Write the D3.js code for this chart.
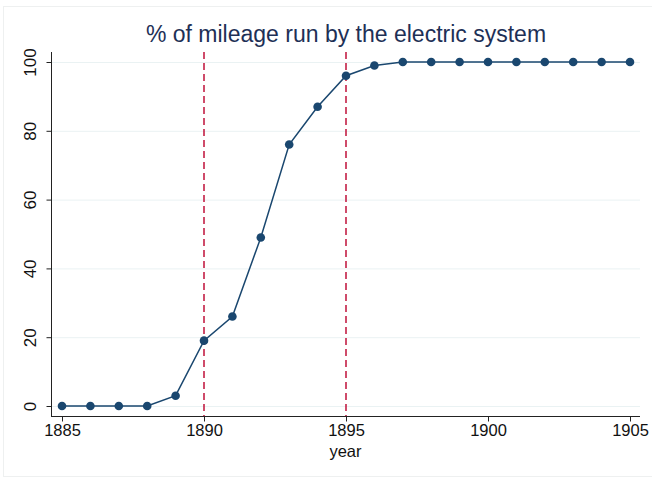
<!DOCTYPE html>
<html>
<head>
<meta charset="utf-8">
<script src="https://cdn.jsdelivr.net/npm/d3@7/dist/d3.min.js"></script>
<style>
  html, body { margin: 0; padding: 0; background: #fff; }
  svg { display: block; font-family: "Liberation Sans", Arial, sans-serif; }
</style>
</head>
<body>
<svg id="chart" width="652" height="479"></svg>
<script>
// Share of tram mileage run by electric traction, by year
const years = [1885, 1886, 1887, 1888, 1889, 1890, 1891, 1892, 1893, 1894, 1895,
               1896, 1897, 1898, 1899, 1900, 1901, 1902, 1903, 1904, 1905];
const pctElectric = [0, 0, 0, 0, 3, 19, 26, 49, 76, 87, 96,
                     99, 100, 100, 100, 100, 100, 100, 100, 100, 100];
const xTicks = [1885, 1890, 1895, 1900, 1905];
const yTicks = [0, 20, 40, 60, 80, 100];
const markerYears = [1890, 1895];

const titleText = "% of mileage run by the electric system";
const xLabel = "year";

const svg = d3.select("#chart");

// outer frame
svg.append("rect")
  .attr("x", 3.5).attr("y", 6.5)
  .attr("width", 660).attr("height", 470)
  .attr("fill", "#fff").attr("stroke", "#eef0f0").attr("stroke-width", 1);

const plot = { left: 51, right: 640, top: 52, bottom: 416 };

const x = d3.scaleLinear().domain([1885, 1905]).range([62, 630]);
const y = d3.scaleLinear().domain([0, 100]).range([406, 62]);

// gridlines
svg.append("g")
  .selectAll("line")
  .data(yTicks)
  .join("line")
  .attr("x1", plot.left).attr("x2", plot.right)
  .attr("y1", d => y(d) + 0.5).attr("y2", d => y(d) + 0.5)
  .attr("stroke", "#eaf2f3").attr("stroke-width", 1);

// y axis
const yAxis = svg.append("g")
  .attr("transform", `translate(${plot.left + 0.5},0)`)
  .call(d3.axisLeft(y).tickValues(yTicks).tickSize(5).tickPadding(8));
yAxis.select(".domain").attr("d", `M0,${plot.top}V${plot.bottom}`).attr("stroke", "#222");
yAxis.selectAll(".tick line").attr("stroke", "#222");
yAxis.selectAll(".tick text")
  .attr("font-size", 17).attr("fill", "#111")
  .attr("transform", "rotate(-90)")
  .attr("x", 0).attr("y", -21)
  .attr("dy", "0.35em")
  .attr("text-anchor", "middle");

// x axis
const xAxis = svg.append("g")
  .attr("transform", `translate(0,${plot.bottom + 0.5})`)
  .call(d3.axisBottom(x).tickValues(xTicks).tickFormat(d3.format("d")).tickSize(5).tickPadding(3));
xAxis.select(".domain").attr("d", `M${plot.left},0H${plot.right}`).attr("stroke", "#222");
xAxis.selectAll(".tick line").attr("stroke", "#222");
xAxis.selectAll(".tick text").attr("font-size", 16.5).attr("fill", "#111");

svg.append("text")
  .attr("x", (plot.left + plot.right) / 2)
  .attr("y", 457)
  .attr("text-anchor", "middle")
  .attr("font-size", 16.5).attr("fill", "#111")
  .text(xLabel);

// reference lines
svg.append("g")
  .selectAll("line")
  .data(markerYears)
  .join("line")
  .attr("x1", d => x(d)).attr("x2", d => x(d))
  .attr("y1", plot.top).attr("y2", plot.bottom)
  .attr("stroke", "#c0103a").attr("stroke-width", 1.5)
  .attr("stroke-dasharray", "7,4");

// series line and markers
const pts = years.map((yr, i) => [yr, pctElectric[i]]);
svg.append("path")
  .datum(pts)
  .attr("fill", "none")
  .attr("stroke", "#1a476f").attr("stroke-width", 1.5)
  .attr("d", d3.line().x(d => x(d[0])).y(d => y(d[1])));

svg.append("g")
  .selectAll("circle")
  .data(pts)
  .join("circle")
  .attr("cx", d => x(d[0])).attr("cy", d => y(d[1]))
  .attr("r", 4.3)
  .attr("fill", "#1a476f");

// title
svg.append("text")
  .attr("x", 346).attr("y", 42)
  .attr("text-anchor", "middle")
  .attr("font-size", 23).attr("fill", "#1e3056")
  .text(titleText);
</script>
</body>
</html>
